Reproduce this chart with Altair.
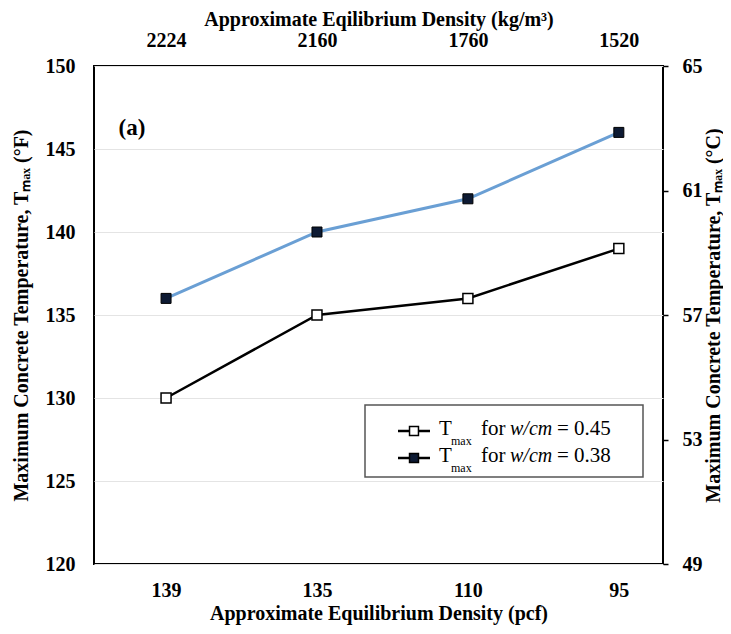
import altair as alt
import pandas as pd

# ---- data ----
pcf = ["139", "135", "110", "95"]
kgm3 = ["2224", "2160", "1760", "1520"]
t_045 = [130, 135, 136, 139]
t_038 = [136, 140, 142, 146]
f_ticks = [120, 125, 130, 135, 140, 145, 150]
c_ticks = [49, 53, 57, 61, 65]
legend_vals = ["= 0.45", "= 0.38"]

FONT = "Liberation Serif"
W, H = 569, 498

df = pd.DataFrame({
    "pcf": pcf * 2,
    "T": t_045 + t_038,
    "s": ["0.45"] * 4 + ["0.38"] * 4,
})
df_top = pd.DataFrame({"kg": kgm3, "C": [(t - 32) * 5 / 9 for t in t_038]})
one = pd.DataFrame({"a": [0]})

xscale = alt.Scale(type="point", domain=pcf, padding=0.385, align=0.62)
yscale = alt.Scale(domain=[120, 150], nice=False, zero=False)

X = alt.X("pcf:O", scale=xscale, sort=pcf,
          axis=alt.Axis(orient="bottom", title="Approximate Equilibrium  Density (pcf)",
                        labelAngle=0, ticks=False, domain=False,
                        labelPadding=16, titlePadding=3))
Y = alt.Y("T:Q", scale=yscale,
          axis=alt.Axis(orient="left", values=f_ticks, title="Maximum Concrete Temperature, Tₘₐₓ (°F)",
                        ticks=False, domain=False, grid=True, gridColor="#e4e4e4",
                        labelPadding=19, titlePadding=14))

base = alt.Chart(df).encode(x=X, y=Y)

line45 = base.transform_filter("datum.s == '0.45'").mark_line(color="black", strokeWidth=2.5)
pts45 = base.transform_filter("datum.s == '0.45'").mark_point(
    shape="square", filled=True, fill="white", stroke="black", strokeWidth=1.5, size=100, opacity=1)
line38 = base.transform_filter("datum.s == '0.38'").mark_line(color="#6a9fd4", strokeWidth=3)
pts38 = base.transform_filter("datum.s == '0.38'").mark_point(
    shape="square", filled=True, fill="#0d1a33", stroke="black", strokeWidth=1, size=100, opacity=1)

# ---- legend box (drawn) ----
lg = alt.Chart(one)
box = lg.mark_rect(fill="white", stroke="#555555", strokeWidth=1.5).encode(
    x=alt.value(271), x2=alt.value(549), y=alt.value(339), y2=alt.value(411))

legend_layers = [box]
rows = [(365, "white"), (392, "#0d1a33")]
for (yy, fill), val in zip(rows, legend_vals):
    legend_layers.append(lg.mark_rule(color="black", strokeWidth=2.5).encode(
        x=alt.value(304), x2=alt.value(336), y=alt.value(yy)))
    legend_layers.append(lg.mark_point(shape="square", filled=True, fill=fill, stroke="black",
                                       strokeWidth=1.5, size=80, opacity=1).encode(
        x=alt.value(320), y=alt.value(yy)))
    legend_layers.append(lg.mark_text(font=FONT, fontSize=21, align="left", baseline="middle",
                                      color="black").encode(
        x=alt.value(345), y=alt.value(yy - 2), text=alt.value("T")))
    legend_layers.append(lg.mark_text(font=FONT, fontSize=12, align="left", baseline="middle",
                                      color="black").encode(
        x=alt.value(357), y=alt.value(yy + 10), text=alt.value("max")))
    legend_layers.append(lg.mark_text(font=FONT, fontSize=21, align="left", baseline="middle",
                                      color="black").encode(
        x=alt.value(387), y=alt.value(yy - 2), text=alt.value("for")))
    legend_layers.append(lg.mark_text(font=FONT, fontSize=20, fontStyle="italic", align="left",
                                      baseline="middle", color="black").encode(
        x=alt.value(416), y=alt.value(yy - 2), text=alt.value("w/cm")))
    legend_layers.append(lg.mark_text(font=FONT, fontSize=21, align="left", baseline="middle",
                                      color="black").encode(
        x=alt.value(463), y=alt.value(yy - 2), text=alt.value(val)))

label_a = lg.mark_text(font=FONT, fontSize=23, fontWeight="bold", align="center",
                       baseline="middle", color="black").encode(
    x=alt.value(38), y=alt.value(62), text=alt.value("(a)"))

inner = alt.layer(line45, line38, pts45, pts38, label_a, *legend_layers)

top = alt.Chart(df_top).mark_point(opacity=0).encode(
    x=alt.X("kg:O", sort=kgm3,
            scale=alt.Scale(type="point", domain=kgm3, padding=0.385, align=0.62),
            axis=alt.Axis(orient="top", title="Approximate Eqilibrium  Density (kg/m³)",
                          labelAngle=0, ticks=False, domain=False,
                          labelPadding=16, titlePadding=1)),
    y=alt.Y("C:Q", scale=alt.Scale(domain=[49, 65], nice=False, zero=False),
            axis=alt.Axis(orient="right", values=c_ticks, grid=False, domain=False,
                          ticks=True, tickSize=5, tickColor="black", tickWidth=1.5,
                          labelPadding=14, title="Maximum Concrete Temperature, Tₘₐₓ (°C)",
                          titleAngle=270, titleAlign="center", titleBaseline="middle",
                          titleX=50, titleY=H / 2)),
)

chart = alt.layer(inner, top).resolve_scale(x="independent", y="independent").properties(
    width=W, height=H,
    padding={"left": 86, "top": 58, "right": 60, "bottom": 62},
    autosize=alt.AutoSizeParams(type="none"),
    background="white",
).configure_view(stroke="black", strokeWidth=2).configure_axis(
    labelFont=FONT, titleFont=FONT, labelFontSize=20, titleFontSize=20,
    labelFontWeight="bold", titleFontWeight="bold", labelColor="black", titleColor="black",
)

chart.save("out.html", embed_options={"renderer": "svg", "actions": False})
